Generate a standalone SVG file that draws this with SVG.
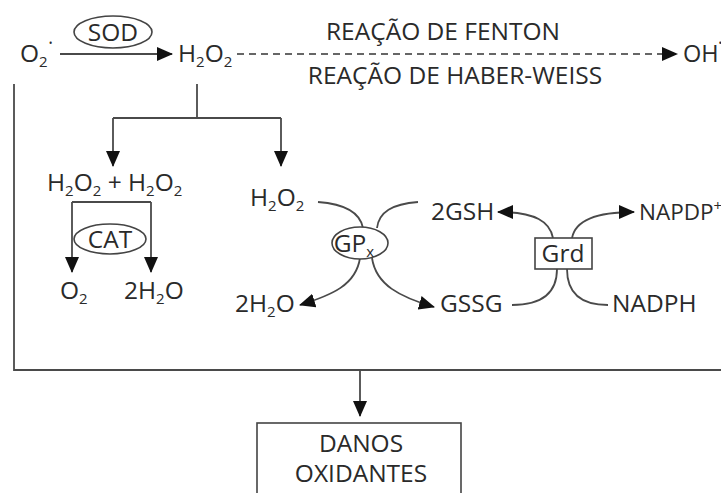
<svg xmlns="http://www.w3.org/2000/svg" width="721" height="493" viewBox="0 0 721 493">
<defs>
<marker id="ah" markerUnits="userSpaceOnUse" markerWidth="16" markerHeight="16" viewBox="0 0 16 16" refX="15" refY="8" orient="auto">
<path d="M0,1 L16,8 L0,15 Z" fill="#111"/>
</marker>
<style>
text{font-family:"Open Sans","Noto Sans","Liberation Sans",sans-serif;font-size:24.5px;fill:#2a2a2a}
.sub{font-size:15px}
.dot{font-size:10px}
.ln{fill:none;stroke:#4a4a4a;stroke-width:1.8}
.arr{fill:none;stroke:#4a4a4a;stroke-width:1.8;marker-end:url(#ah)}
.dash{fill:none;stroke:#666;stroke-width:1.8;stroke-dasharray:7,5;marker-end:url(#ah)}
.enz{fill:#fff;stroke:#444;stroke-width:1.6}
</style>
</defs>
<rect width="721" height="493" fill="#fff"/>
<g id="connectors">
<path class="arr" d="M60,54 H172"/>
<path class="dash" d="M237,54 H677"/>
<path class="ln" d="M14,84 V370 H721"/>
<path class="arr" d="M360,370 V416"/>
<path class="ln" d="M197,84 V118"/>
<path class="ln" d="M113,118 H281"/>
<path class="arr" d="M113,118 V166"/>
<path class="arr" d="M281,118 V166"/>
<path class="ln" d="M72,202 H151"/>
<path class="arr" d="M72,202 V272"/>
<path class="arr" d="M151,202 V272"/>
<path class="ln" d="M318,202 C345,204 360,212 363,228"/>
<path class="ln" d="M418,202 C392,204 379,212 377,228"/>
<path class="arr" d="M360,258 C356,285 332,295 300,305"/>
<path class="arr" d="M372,258 C376,285 400,297 434,307"/>
<path class="arr" d="M553,238 C550,222 536,212 498,212"/>
<path class="arr" d="M572,238 C575,222 592,212 634,212"/>
<path class="ln" d="M557,269 C557,290 545,305 512,305"/>
<path class="ln" d="M567,269 C567,290 578,305 608,305"/>
</g>
<g id="o2rad"><text x="20" y="62">O<tspan class="sub" dy="5">2</tspan><tspan class="dot" dx="1" dy="-20">•</tspan></text></g>
<g id="sod"><ellipse class="enz" cx="113" cy="32" rx="39" ry="16"/><text x="113" y="41" text-anchor="middle">SOD</text></g>
<g id="h2o2top"><text x="178" y="62">H<tspan class="sub" dy="5">2</tspan><tspan dy="-5">O</tspan><tspan class="sub" dy="5">2</tspan></text></g>
<g id="fenton"><text x="443" y="40" text-anchor="middle">REAÇÃO DE FENTON</text></g>
<g id="haber"><text x="455" y="84" text-anchor="middle">REAÇÃO DE HABER-WEISS</text></g>
<g id="oh"><text x="683" y="62" style="font-size:23.5px">OH<tspan class="dot" dx="0" dy="-15">•</tspan></text></g>
<g id="h2o2pair"><text x="47" y="191">H<tspan class="sub" dy="5">2</tspan><tspan dy="-5">O</tspan><tspan class="sub" dy="5">2</tspan><tspan dy="-5"> + H</tspan><tspan class="sub" dy="5">2</tspan><tspan dy="-5">O</tspan><tspan class="sub" dy="5">2</tspan></text></g>
<g id="cat"><ellipse class="enz" cx="110" cy="239" rx="36" ry="15"/><text x="110" y="248" text-anchor="middle">CAT</text></g>
<g id="o2prod"><text x="60" y="299">O<tspan class="sub" dy="5">2</tspan></text></g>
<g id="h2oprod"><text x="124" y="299">2H<tspan class="sub" dy="5">2</tspan><tspan dy="-5">O</tspan></text></g>
<g id="h2o2gpx"><text x="250" y="206">H<tspan class="sub" dy="5">2</tspan><tspan dy="-5">O</tspan><tspan class="sub" dy="5">2</tspan></text></g>
<g id="gpx"><ellipse class="enz" cx="360" cy="243" rx="28" ry="16"/><text x="354" y="252" text-anchor="middle">GP<tspan class="sub" dy="5">x</tspan></text></g>
<g id="h2ogpx"><text x="235" y="312">2H<tspan class="sub" dy="5">2</tspan><tspan dy="-5">O</tspan></text></g>
<g id="gssg"><text x="440" y="312">GSSG</text></g>
<g id="gsh"><text x="431" y="220">2GSH</text></g>
<g id="napdp"><text x="639" y="220" style="font-size:22.5px">NAPDP<tspan class="sub" dy="-9">+</tspan></text></g>
<g id="grd"><rect class="enz" x="535" y="238" width="57" height="31"/><text x="563" y="262" text-anchor="middle">Grd</text></g>
<g id="nadph"><text x="612" y="312">NADPH</text></g>
<g id="danos"><rect x="257" y="423" width="204" height="80" fill="#fff" stroke="#444" stroke-width="1.6"/><text x="361" y="452" text-anchor="middle">DANOS</text><text x="361" y="482" text-anchor="middle">OXIDANTES</text></g>
</svg>
